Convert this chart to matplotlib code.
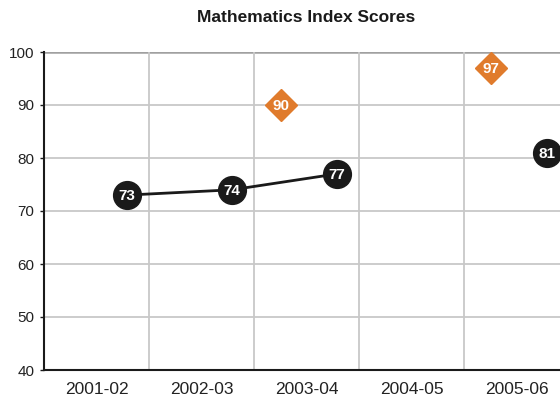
import matplotlib
matplotlib.use("Agg")
import matplotlib.pyplot as plt
import numpy as np

plt.rcParams['font.family'] = ['Liberation Sans', 'DejaVu Sans']

categories = ["2001-02", "2002-03", "2003-04", "2004-05", "2005-06"]
school_scores = [73, 74, 77, None, 81]
comparison_scores = [None, None, 90, None, 97]
y_ticks = [40, 50, 60, 70, 80, 90, 100]

black = "#1a1a1a"
orange = "#e07b2c"

fig = plt.figure(figsize=(5.6, 4.03), dpi=100)
ax = fig.add_axes([44/560, 33/403, 525/560, 318/403])

x = np.arange(len(categories))
ax.set_xlim(-0.5, len(categories) - 0.5)
ax.set_ylim(40, 100)

# grid
for yv in y_ticks[1:-1]:
    ax.axhline(yv, color="#c8c8c8", lw=1.3, zorder=0)
ax.axhline(100, color="#a0a0a0", lw=1.8, zorder=0)
for b in np.arange(0.5, len(categories) - 0.5, 1.0):
    ax.axvline(b, color="#c8c8c8", lw=1.3, zorder=0)

off_b = 0.29
xs = [xi + off_b for xi, v in zip(x, school_scores) if v is not None]
ys = [v for v in school_scores if v is not None]
for i in range(len(school_scores) - 1):
    if school_scores[i] is not None and school_scores[i + 1] is not None:
        ax.plot([x[i] + off_b, x[i + 1] + off_b], [school_scores[i], school_scores[i + 1]],
                color=black, lw=2, zorder=2)
ax.plot(xs, ys, linestyle="none", marker="o", ms=20, color=black, zorder=3, clip_on=False)
for xv, yv in zip(xs, ys):
    ax.text(xv, yv - 0.2, str(yv), color="white", fontsize=11, fontweight="bold",
            ha="center", va="center", zorder=4)

off_o = -0.243
xo = [xi + off_o for xi, v in zip(x, comparison_scores) if v is not None]
yo = [v for v in comparison_scores if v is not None]
ax.plot(xo, yo, linestyle="none", marker="D", ms=16.5, color=orange, zorder=3, clip_on=False)
for xv, yv in zip(xo, yo):
    ax.text(xv, yv - 0.2, str(yv), color="white", fontsize=11, fontweight="bold",
            ha="center", va="center", zorder=4)

ax.set_xticks(x)
ax.set_xticklabels(categories, fontsize=12.5, color="#222222")
ax.set_yticks(y_ticks)
ax.set_yticklabels([str(v) for v in y_ticks], fontsize=11, color="#222222")
ax.tick_params(axis="x", length=0, pad=9)
ax.tick_params(axis="y", length=3, width=1, color=black, pad=4)

for s in ["top", "right"]:
    ax.spines[s].set_visible(False)
ax.spines["left"].set_color(black)
ax.spines["bottom"].set_color(black)
ax.spines["left"].set_linewidth(1.5)
ax.spines["bottom"].set_linewidth(1.5)

fig.text(306.5/560, 1 - 18/403, "Mathematics Index Scores", ha="center", va="center",
         fontsize=12.5, fontweight="bold", color="#1a1a1a")

fig.savefig("out.png", dpi=100)
